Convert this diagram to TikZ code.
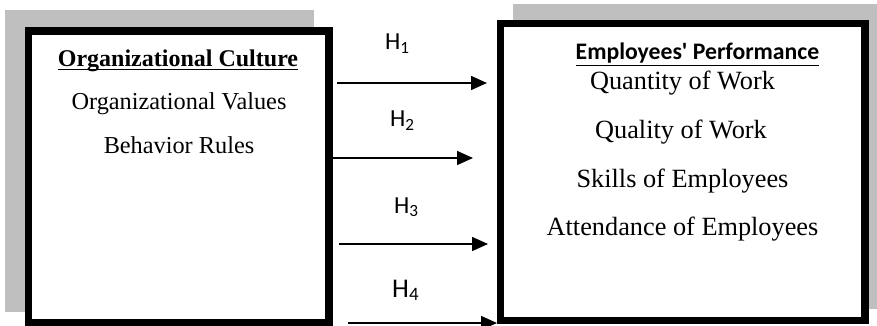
\documentclass[tikz,border=0pt]{standalone}
\usepackage{fontspec}
\setmainfont{Liberation Serif}
\newfontfamily\calibri{Carlito}
\usetikzlibrary{arrows.meta}
\definecolor{shadowgray}{RGB}{191,191,191}
% underline at a given depth below the baseline
\newcommand\ulbox[2]{\setbox0\hbox{#2}\rlap{\vrule height -#1 depth \dimexpr#1+1.5pt\relax width \wd0}\box0}
\tikzset{
    frame/.style={draw, line width=7.5pt, fill=white, inner sep=0pt},
    hyp/.style={-{Triangle[length=16pt,width=14pt]}, line width=1.6pt},
    item/.style={anchor=base, inner sep=0pt, font=\fontsize{24.3}{28}\selectfont},
    ritem/.style={anchor=base, inner sep=0pt, font=\fontsize{26.3}{30}\selectfont},
    hlabel/.style={anchor=base west, inner sep=0pt, font=\calibri\fontsize{24.5}{28}\selectfont},
}
\begin{document}
\begin{tikzpicture}[x=1pt, y=-1pt]
    \useasboundingbox (0,0) rectangle (877,326);
    % Shadows
    \fill [shadowgray] (5,10) rectangle (314,312);
    \fill [shadowgray] (513,4) rectangle (877,309);
    % Boxes
    \node [frame, minimum width=300.5pt, minimum height=291.5pt] (cult) at (178.75,176.75) {};
    \node [frame, minimum width=364.5pt, minimum height=297pt] (perf) at (682.75,172) {};
    % Organizational culture
    \node [item] (culttitle) at (178,67) {\fontsize{24}{28}\selectfont\ulbox{2pt}{\bfseries Organizational Culture}};
    \node [item] (values) at (179,110) {Organizational Values};
    \node [item] (rules) at (179,153) {Behavior Rules};
    % Employees' performance
    \node [ritem] (perftitle) at (697.5,60) {\calibri\fontsize{23.7}{28}\selectfont\ulbox{5pt}{\bfseries Employees' Performance}};
    \node [ritem] (quantity) at (682.5,90) {Quantity of Work};
    \node [ritem] (quality) at (681,138) {Quality of Work};
    \node [ritem] (skills) at (682.5,187) {Skills of Employees};
    \node [ritem] (attend) at (682.5,235) {Attendance of Employees};
    % Coordinate
    \coordinate (s1) at (337,83);  \coordinate (e1) at (487,83);
    \coordinate (s2) at (333,158); \coordinate (e2) at (473,158);
    \coordinate (s3) at (339,244); \coordinate (e3) at (488,244);
    \coordinate (s4) at (348,323); \coordinate (e4) at (497,323);
    % Hypotheses
    \draw [hyp] (s1) -- (e1);
    \draw [hyp] (s2) -- (e2);
    \draw [hyp] (s3) -- (e3);
    \draw [hyp] (s4) -- (e4);
    \node [hlabel] (h1) at (385,50) {H\textsubscript{1}};
    \node [hlabel] (h2) at (390,127) {H\textsubscript{2}};
    \node [hlabel] (h3) at (394,213) {H\textsubscript{3}};
    \node [hlabel, font=\calibri\fontsize{27}{32}\selectfont] (h4) at (392,297) {H\textsubscript{4}};
\end{tikzpicture}
\end{document}
